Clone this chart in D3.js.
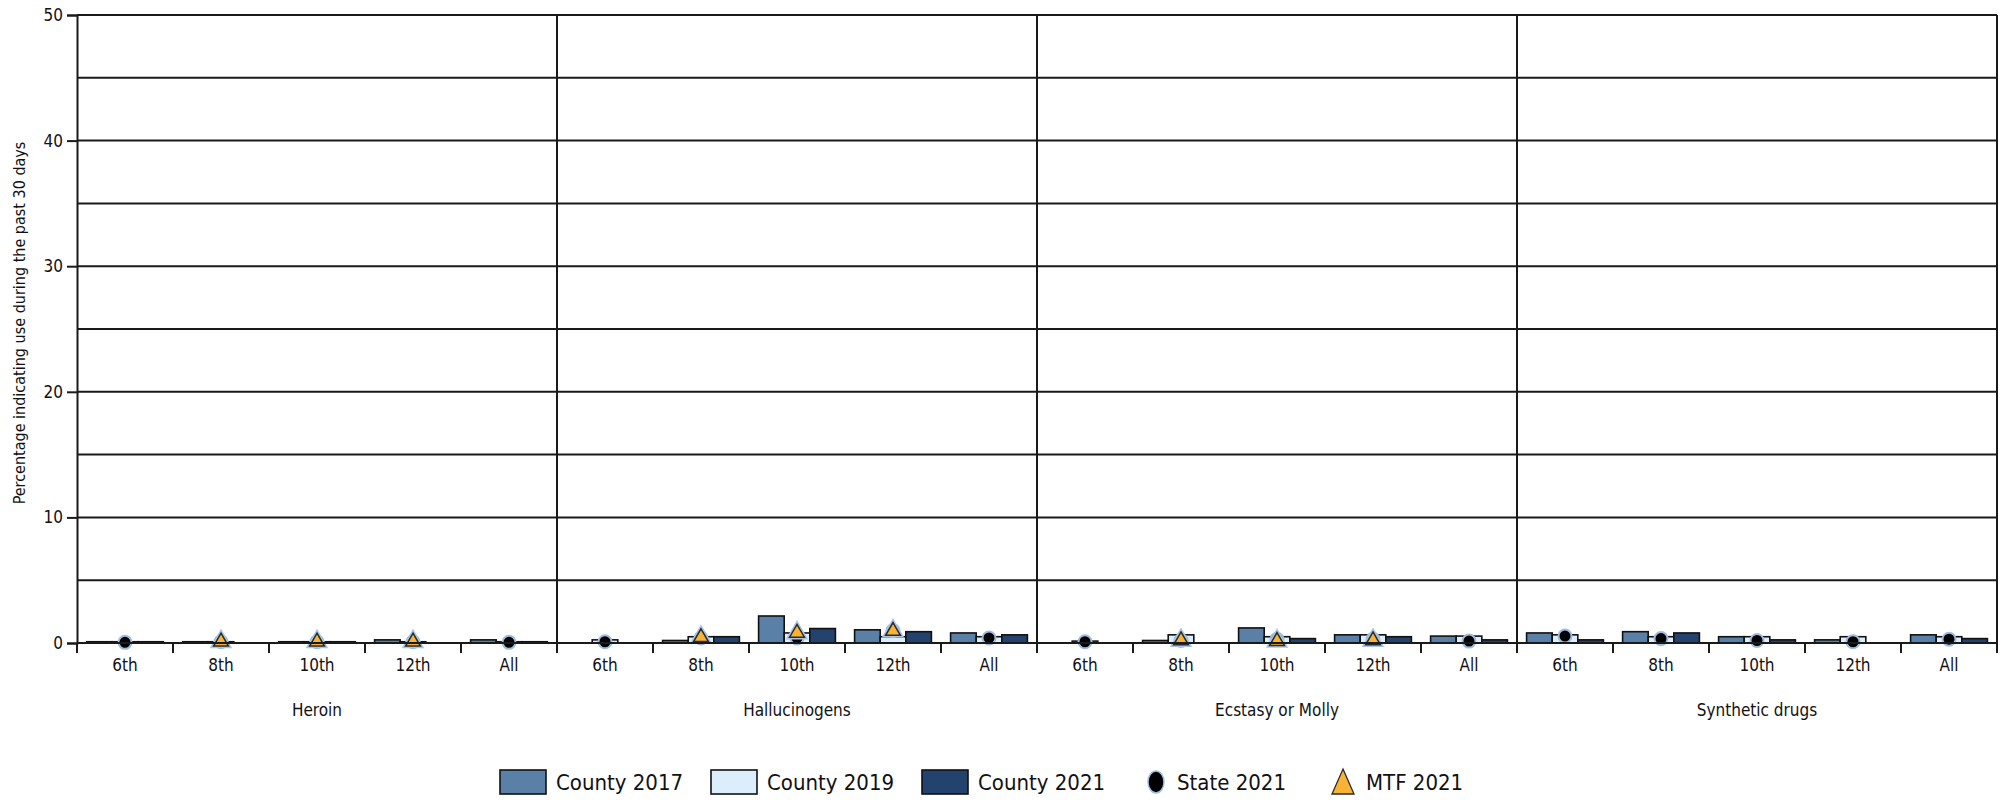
<!DOCTYPE html>
<html>
<head>
<meta charset="utf-8">
<script src="https://cdn.jsdelivr.net/npm/d3@7"></script>
<style>
  body { margin: 0; background: #fff; }
  svg text { font-family: "Liberation Sans Narrow", "DejaVu Sans Condensed", "Noto Sans", sans-serif; fill: #111; }
</style>
</head>
<body>
<div id="chart"></div>
<script>
const panels = ["Heroin", "Hallucinogens", "Ecstasy or Molly", "Synthetic drugs"];
const grades = ["6th", "8th", "10th", "12th", "All"];
const barSeries = ["County 2017", "County 2019", "County 2021"];
const yTicks = [0, 10, 20, 30, 40, 50];

// one row per panel, one value per grade
const county2017 = [
    [0.1, 0.1, 0.1, 0.25, 0.25],
    [0, 0.2, 2.15, 1.05, 0.8],
    [0, 0.2, 1.2, 0.65, 0.55],
    [0.8, 0.9, 0.5, 0.25, 0.65]
];
const county2019 = [
    [0.1, 0.1, 0.1, 0.1, 0.1],
    [0.25, 0.5, 0.8, 0.5, 0.5],
    [0.15, 0.65, 0.5, 0.65, 0.55],
    [0.65, 0.5, 0.5, 0.5, 0.5]
];
const county2021 = [
    [0.1, 0, 0.1, 0, 0.1],
    [0, 0.5, 1.15, 0.9, 0.65],
    [0, 0, 0.35, 0.5, 0.25],
    [0.25, 0.8, 0.25, 0, 0.35]
];
const state2021 = [
    [0.05, 0.1, 0.1, 0.1, 0.05],
    [0.1, 0.4, 0.4, 1.0, 0.4],
    [0.1, 0.2, 0.3, 0.3, 0.15],
    [0.55, 0.35, 0.2, 0.1, 0.3]
];
const mtf2021 = [
    [null, 0.1, 0.1, 0.1, null],
    [null, 0.45, 0.8, 0.95, null],
    [null, 0.2, 0.15, 0.2, null],
    [null, null, null, null, null]
];

const colors = {"County 2017": "#5b80a8", "County 2019": "#dcedfc", "County 2021": "#23426d"};

const width = 2003, height = 804;
const margin = {top: 15, right: 6, bottom: 161, left: 77};

const svg = d3.select("#chart").append("svg")
    .attr("width", width)
    .attr("height", height);

const x0 = d3.scaleBand().domain(panels.map((d, i) => i))
    .range([margin.left, width - margin.right]);
const x1 = d3.scaleBand().domain(grades).range([0, x0.bandwidth()]);
const x2 = d3.scaleBand().domain(barSeries)
    .range([x1.bandwidth() * 0.1, x1.bandwidth() * 0.9]);
const y = d3.scaleLinear().domain([0, 50]).range([height - margin.bottom, margin.top]);

const plotBottom = y(0);

// gridlines every 5
svg.append("g")
    .selectAll("line")
    .data(d3.range(5, 51, 5))
    .enter().append("line")
    .attr("x1", margin.left)
    .attr("x2", width - margin.right)
    .attr("y1", d => y(d))
    .attr("y2", d => y(d))
    .attr("stroke", "#1a1a1a")
    .attr("stroke-width", 2);

// panel dividers and right border
svg.append("g")
    .selectAll("line")
    .data(d3.range(1, panels.length + 1))
    .enter().append("line")
    .attr("x1", i => i < panels.length ? x0(i) : width - margin.right)
    .attr("x2", i => i < panels.length ? x0(i) : width - margin.right)
    .attr("y1", y(50))
    .attr("y2", plotBottom)
    .attr("stroke", "#1a1a1a")
    .attr("stroke-width", 2);

// y axis
const yAxis = svg.append("g")
    .attr("transform", `translate(${margin.left},0)`)
    .call(d3.axisLeft(y).tickValues(yTicks).tickSize(10).tickPadding(4));
yAxis.select(".domain").attr("stroke", "#1a1a1a").attr("stroke-width", 2);
yAxis.selectAll(".tick line").attr("stroke", "#1a1a1a").attr("stroke-width", 2);
yAxis.selectAll(".tick text").style("font-size", "17px").attr("fill", "#111");

svg.append("text")
    .attr("transform", `translate(25,${(y(0) + y(50)) / 2 - 6}) rotate(-90)`)
    .attr("text-anchor", "middle")
    .style("font-size", "16px")
    .text("Percentage indicating use during the past 30 days");

// one group per panel
const panelG = svg.selectAll(".panel")
    .data(panels)
    .enter().append("g")
    .attr("class", "panel")
    .attr("transform", (d, i) => `translate(${x0(i)},0)`);

panelG.each(function(name, p) {
    const g = d3.select(this);

    const rows = grades.map((grade, k) => ({
        grade: grade,
        bars: [
            {key: "County 2017", value: county2017[p][k]},
            {key: "County 2019", value: county2019[p][k]},
            {key: "County 2021", value: county2021[p][k]}
        ],
        state: state2021[p][k],
        mtf: mtf2021[p][k]
    }));

    const cat = g.selectAll(".cat")
        .data(rows)
        .enter().append("g")
        .attr("class", "cat")
        .attr("transform", d => `translate(${x1(d.grade)},0)`);

    cat.selectAll("rect")
        .data(d => d.bars)
        .enter().append("rect")
        .attr("x", d => x2(d.key))
        .attr("y", d => y(d.value))
        .attr("width", x2.bandwidth())
        .attr("height", d => plotBottom - y(d.value))
        .attr("fill", d => colors[d.key])
        .attr("stroke", "#111")
        .attr("stroke-width", 1.6);

    const cx = x1.bandwidth() / 2;

    cat.filter(d => d.state != null).append("circle")
        .attr("cx", cx)
        .attr("cy", d => y(d.state))
        .attr("r", 6.5)
        .attr("fill", "#000")
        .attr("stroke", "#9dbde0")
        .attr("stroke-width", 2);

    const tri = d3.symbol().type(d3.symbolTriangle).size(95);
    cat.filter(d => d.mtf != null).append("path")
        .attr("d", tri)
        .attr("transform", d => `translate(${cx},${y(d.mtf)})`)
        .attr("fill", "none")
        .attr("stroke", "#a9c6e6")
        .attr("stroke-width", 4.5);
    cat.filter(d => d.mtf != null).append("path")
        .attr("d", tri)
        .attr("transform", d => `translate(${cx},${y(d.mtf)})`)
        .attr("fill", "#f8b334")
        .attr("stroke", "#2a2a2a")
        .attr("stroke-width", 1.5);

    // category axis
    const xAxis = g.append("g")
        .attr("transform", `translate(0,${plotBottom})`)
        .call(d3.axisBottom(x1).tickSize(0).tickPadding(16));
    xAxis.select(".domain").remove();
    xAxis.selectAll(".tick text").style("font-size", "17px").attr("fill", "#111");

    g.append("g").selectAll("line")
        .data(d3.range(grades.length + 1))
        .enter().append("line")
        .attr("x1", k => k * x1.step())
        .attr("x2", k => k * x1.step())
        .attr("y1", plotBottom)
        .attr("y2", plotBottom + 10)
        .attr("stroke", "#1a1a1a")
        .attr("stroke-width", 2);

    g.append("text")
        .attr("x", x0.bandwidth() / 2)
        .attr("y", plotBottom + 73)
        .attr("text-anchor", "middle")
        .style("font-size", "17px")
        .text(name);
});

// baseline
svg.append("line")
    .attr("x1", margin.left)
    .attr("x2", width - margin.right)
    .attr("y1", plotBottom)
    .attr("y2", plotBottom)
    .attr("stroke", "#1a1a1a")
    .attr("stroke-width", 2);

// legend
const legendY = 782;
const legendItems = [
    {label: "County 2017", type: "rect", x: 500},
    {label: "County 2019", type: "rect", x: 711},
    {label: "County 2021", type: "rect", x: 922},
    {label: "State 2021", type: "circle", x: 1145},
    {label: "MTF 2021", type: "tri", x: 1331}
];

const legend = svg.append("g");
legendItems.forEach(item => {
    const lg = legend.append("g").attr("transform", `translate(${item.x},${legendY})`);
    if (item.type === "rect") {
        lg.append("rect")
            .attr("x", 0).attr("y", -12)
            .attr("width", 46).attr("height", 24)
            .attr("fill", colors[item.label])
            .attr("stroke", "#111")
            .attr("stroke-width", 1.6);
        lg.append("text").attr("x", 56).attr("y", 0).attr("dy", "0.36em")
            .style("font-size", "22px").text(item.label);
    } else if (item.type === "circle") {
        lg.append("ellipse")
            .attr("cx", 11).attr("cy", 0).attr("rx", 8).attr("ry", 11)
            .attr("fill", "#000").attr("stroke", "#9dbde0").attr("stroke-width", 1.5);
        lg.append("text").attr("x", 32).attr("y", 0).attr("dy", "0.36em")
            .style("font-size", "22px").text(item.label);
    } else {
        lg.append("path")
            .attr("d", "M12,-13 L23,12 L1,12 Z")
            .attr("fill", "#f8b334").attr("stroke", "#2a2a2a").attr("stroke-width", 1.3);
        lg.append("text").attr("x", 35).attr("y", 0).attr("dy", "0.36em")
            .style("font-size", "22px").text(item.label);
    }
});
</script>
</body>
</html>
